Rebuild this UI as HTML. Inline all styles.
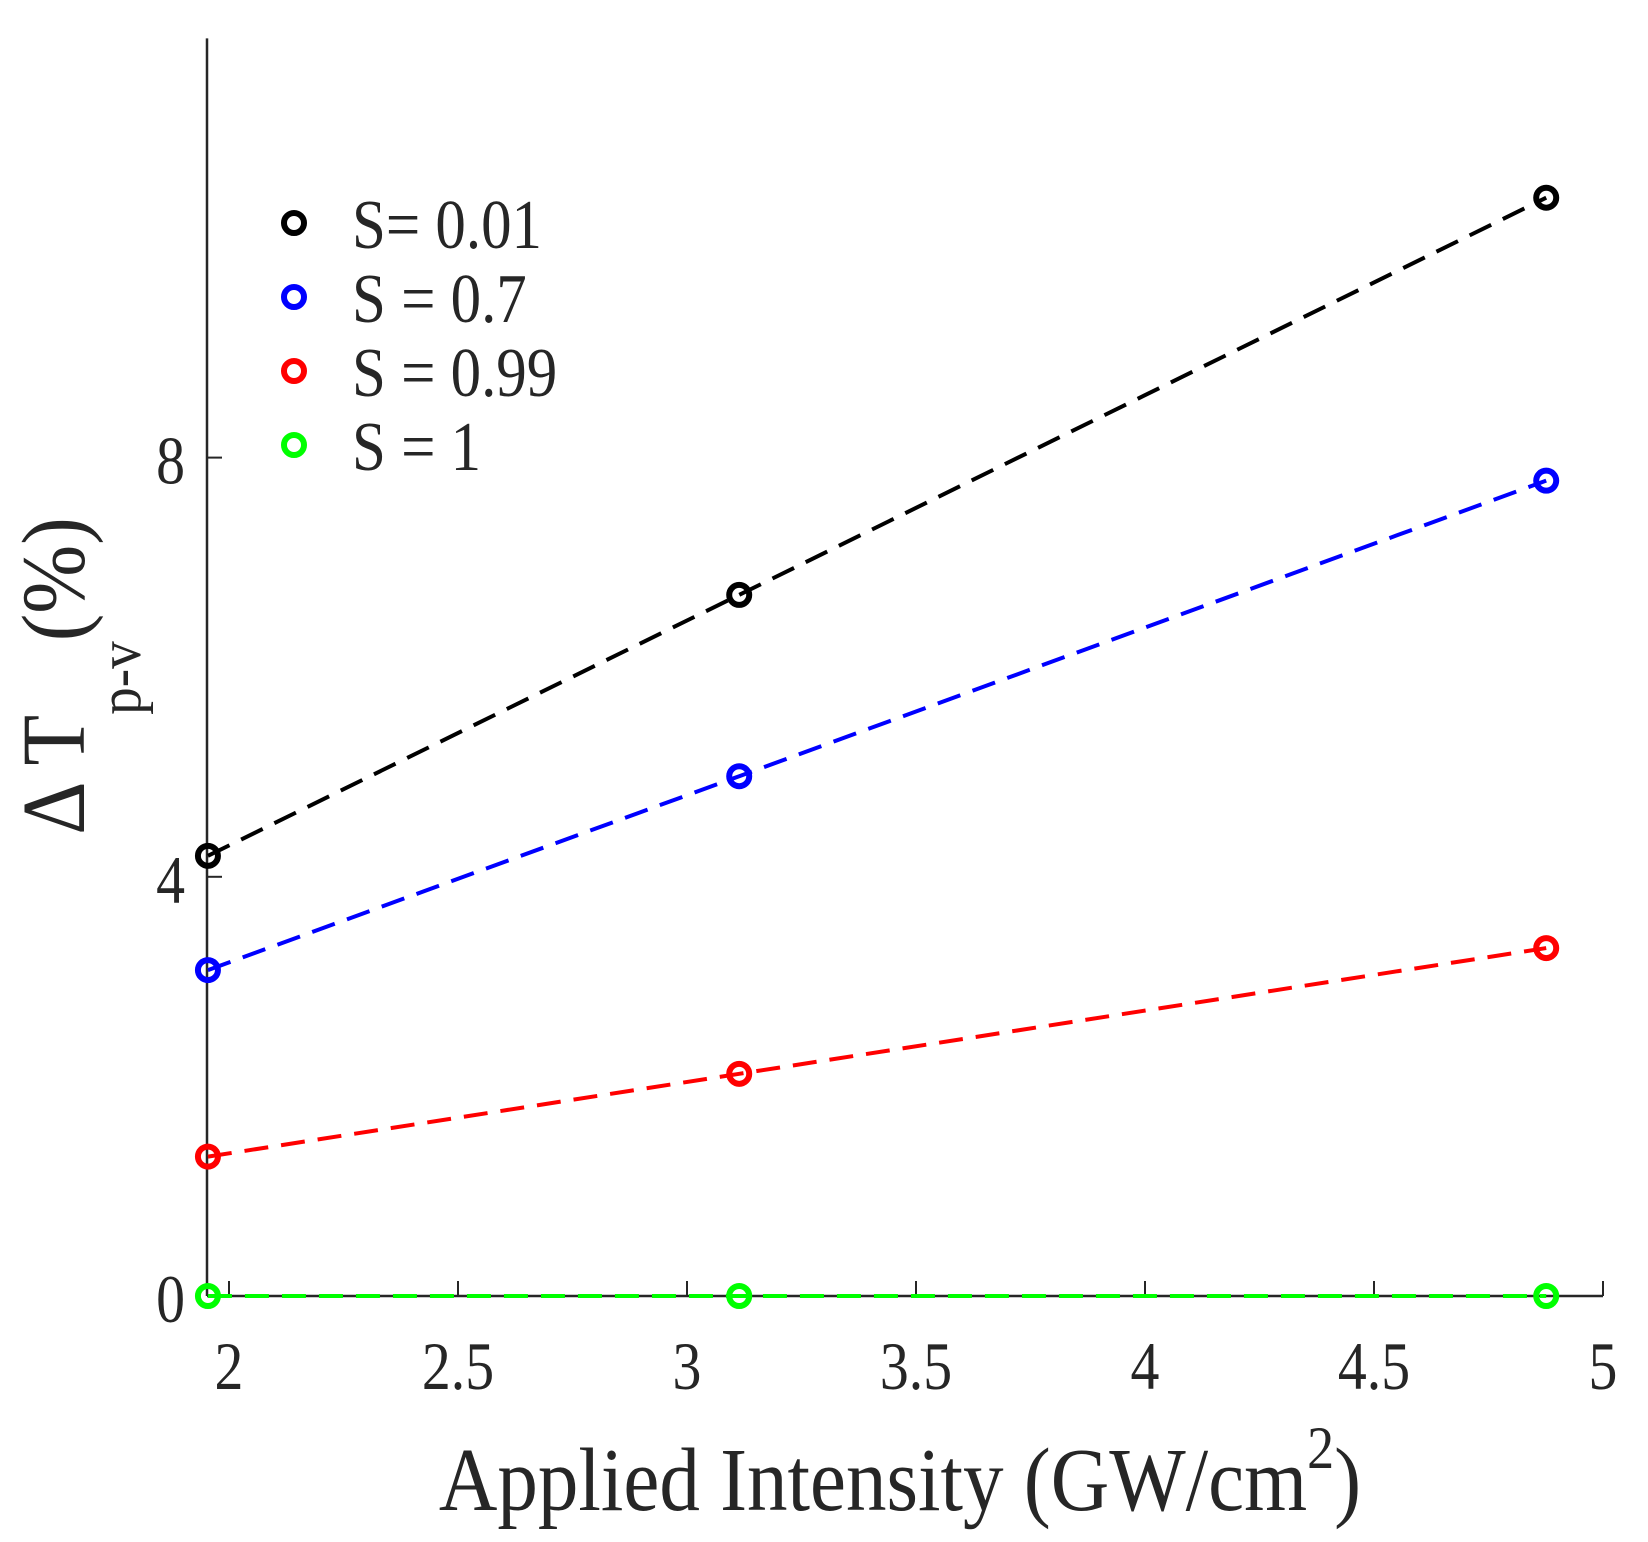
<!DOCTYPE html>
<html><head><meta charset="utf-8"><style>
html,body{margin:0;padding:0;background:#fff}
svg{display:block}
text{font-family:"Liberation Serif",serif;fill:#262626}
</style></head><body>
<svg id="chart" width="1648" height="1542" viewBox="0 0 1648 1542" xmlns="http://www.w3.org/2000/svg">
<g id="axes"></g>
<g id="series"></g>
<g id="legend"></g>
<text transform="translate(900,1510) scale(0.9,1)" font-size="90" text-anchor="middle">Applied Intensity (GW/cm<tspan dy="-42" font-size="60">2</tspan><tspan dy="42">)</tspan></text>
<text transform="translate(84,676) rotate(-90) scale(0.92,1)" font-size="90" text-anchor="middle">Δ T<tspan dy="56" font-size="60">p-v</tspan><tspan dy="-56">(%)</tspan></text>
</svg>
<script>
const xValues = [1.954, 3.114, 4.876];
const seriesNames = ["S= 0.01", "S = 0.7", "S = 0.99", "S = 1"];
const seriesColors = ["#000000", "#0000ff", "#ff0000", "#00ff00"];
const s001 = [4.2, 6.69, 10.48];
const s07 = [3.11, 4.96, 7.78];
const s099 = [1.33, 2.12, 3.32];
const s1 = [0, 0, 0];
const xTicks = [2, 2.5, 3, 3.5, 4, 4.5, 5];
const xTickLabels = ["2", "2.5", "3", "3.5", "4", "4.5", "5"];
const yTicks = [0, 4, 8];
const yTickLabels = ["0", "4", "8"];

const NS = "http://www.w3.org/2000/svg";
const X0 = 229, XPU = 458, Y0 = 1296, YPU = 104.8;
const xS = v => X0 + (v - 2) * XPU;
const yS = v => Y0 - v * YPU;
function mk(tag, attrs, parent) {
  const e = document.createElementNS(NS, tag);
  for (const k in attrs) e.setAttribute(k, attrs[k]);
  parent.appendChild(e);
  return e;
}
const axes = document.getElementById('axes');
const yl = mk('line', {x1: 207, y1: yS(12), x2: 207, y2: yS(0), stroke: '#262626', 'stroke-width': 2.5}, axes);


const xl = mk('line', {x1: 207, y1: yS(0), x2: xS(5), y2: yS(0), stroke: '#262626', 'stroke-width': 2.5}, axes);


xTicks.forEach((t, i) => {
  const tk = mk('line', {x1: xS(t), y1: yS(0), x2: xS(t), y2: yS(0) - 15, stroke: '#262626', 'stroke-width': 2}, axes);
  
  
  const lb = mk('text', {transform: 'translate(' + xS(t) + ',1389) scale(0.85,1)', 'font-size': 68, 'text-anchor': 'middle'}, axes);
  lb.textContent = xTickLabels[i];
  
  
});
yTicks.forEach((t, i) => {
  const tk = mk('line', {x1: 207, y1: yS(t), x2: 222, y2: yS(t), stroke: '#262626', 'stroke-width': 2}, axes);
  
  
  const lb = mk('text', {transform: 'translate(185,' + (yS(t) + 26) + ') scale(0.85,1)', 'font-size': 68, 'text-anchor': 'end'}, axes);
  lb.textContent = yTickLabels[i];
  
  
});
const allSeries = [s001, s07, s099, s1];
const sg = document.getElementById('series');
allSeries.forEach((vals, si) => {
  const c = seriesColors[si];
  const pts = vals.map((v, i) => xS(xValues[i]) + ',' + yS(v)).join(' ');
  const pl = mk('polyline', {points: pts, fill: 'none', stroke: c, 'stroke-width': 4, 'stroke-dasharray': '24 13'}, sg);
  
  
  vals.forEach((v, i) => {
    const m = mk('circle', {cx: xS(xValues[i]), cy: yS(v), r: 10, fill: 'none', stroke: c, 'stroke-width': 6}, sg);
    
    
  });
});
const lg = document.getElementById('legend');
seriesNames.forEach((n, i) => {
  const cy = 223 + i * 74;
  const m = mk('circle', {cx: 294, cy: cy, r: 10, fill: 'none', stroke: seriesColors[i], 'stroke-width': 6}, lg);
  
  
  const t = mk('text', {transform: 'translate(352,' + (cy + 25) + ') scale(0.87,1)', 'font-size': 70, fill: '#000'}, lg);
  t.textContent = n;
  
  
});
</script>
</body></html>
